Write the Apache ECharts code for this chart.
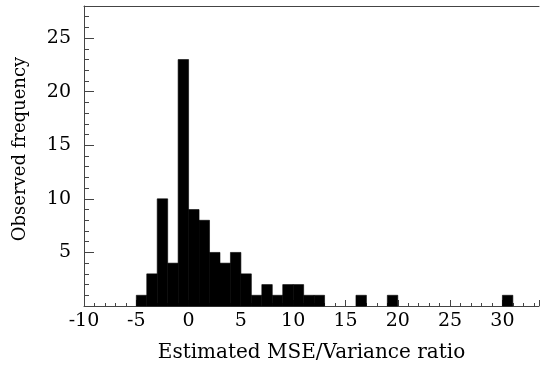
<!DOCTYPE html>
<html>
<head>
<meta charset="utf-8">
<script src="https://cdn.jsdelivr.net/npm/echarts@6/dist/echarts.min.js"></script>
<style>html,body{margin:0;padding:0;background:#fff}#c{width:542px;height:374px}</style>
</head>
<body>
<div id="c"></div>
<script>
// Histogram bins: left edge of each bin (bin width = 1) and observed counts
var binStarts = [-5, -4, -3, -2, -1, 0, 1, 2, 3, 4, 5, 6, 7, 8, 9, 10, 11, 12, 16, 19, 30];
var counts    = [ 1,  3, 10,  4, 23, 9, 8, 5, 4, 5, 3, 1, 2, 1, 2, 2, 1, 1, 1, 1, 1];
var binWidth = 1;
var xTickLabels = [-10, -5, 0, 5, 10, 15, 20, 25, 30];
var yTickLabels = [5, 10, 15, 20, 25];

var FONT = 'DejaVu Serif';
var lineColor = '#444';
var data = binStarts.map(function (s, i) { return [s, s + binWidth, counts[i]]; });

var chart = echarts.init(document.getElementById('c'));
chart.setOption({
  animation: false,
  grid: { left: 84, right: 0, top: 6, bottom: 68, containLabel: false },
  xAxis: [
    {
      type: 'value', min: -10, max: 33.5, interval: 5, position: 'bottom',
      name: 'Estimated MSE/Variance ratio', nameLocation: 'middle', nameGap: 37,
      nameTextStyle: { fontFamily: FONT, fontSize: 20, color: '#000' },
      axisLine: { show: true, onZero: false, lineStyle: { color: lineColor, width: 1 } },
      axisTick: { show: true, inside: true, length: 6, lineStyle: { color: lineColor } },
      axisLabel: { fontFamily: FONT, fontSize: 19, color: '#000', margin: 6,
        formatter: function (v) { return xTickLabels.indexOf(v) >= 0 ? String(v) : ''; } },
      splitLine: { show: false }
    },
    {
      type: 'value', min: -10, max: 33.5, interval: 1, position: 'bottom',
      axisLine: { show: false, onZero: false },
      axisTick: { show: true, inside: true, length: 3, lineStyle: { color: lineColor } },
      axisLabel: { show: false }, splitLine: { show: false }
    },
    {
      type: 'value', min: -10, max: 33.5, position: 'top',
      axisLine: { show: true, onZero: false, lineStyle: { color: lineColor, width: 1 } },
      axisTick: { show: false }, axisLabel: { show: false }, splitLine: { show: false }
    }
  ],
  yAxis: [
    {
      type: 'value', min: 0, max: 28, interval: 5, position: 'left',
      name: 'Observed frequency', nameLocation: 'middle', nameGap: 55, nameRotate: 90,
      nameTextStyle: { fontFamily: FONT, fontSize: 18, color: '#000', padding: [0, 0, 0, 14] },
      axisLine: { show: true, onZero: false, lineStyle: { color: lineColor, width: 1 } },
      axisTick: { show: true, inside: true, length: 10, lineStyle: { color: lineColor } },
      axisLabel: { fontFamily: FONT, fontSize: 19, color: '#000', margin: 13,
        formatter: function (v) { return yTickLabels.indexOf(v) >= 0 ? String(v) : ''; } },
      splitLine: { show: false }
    },
    {
      type: 'value', min: 0, max: 28, interval: 1, position: 'left',
      axisLine: { show: false, onZero: false },
      axisTick: { show: true, inside: true, length: 5, lineStyle: { color: lineColor } },
      axisLabel: { show: false }, splitLine: { show: false }
    }
  ],
  series: [{
    type: 'custom',
    xAxisIndex: 0, yAxisIndex: 0,
    data: data,
    encode: { x: [0, 1], y: 2 },
    renderItem: function (params, api) {
      var p0 = api.coord([api.value(0), 0]);
      var p1 = api.coord([api.value(1), api.value(2)]);
      return {
        type: 'rect',
        shape: { x: p0[0], y: p1[1], width: p1[0] - p0[0], height: p0[1] - p1[1] },
        style: { fill: '#000', stroke: '#000', lineWidth: 0.6 }
      };
    }
  }]
});
</script>
</body>
</html>
